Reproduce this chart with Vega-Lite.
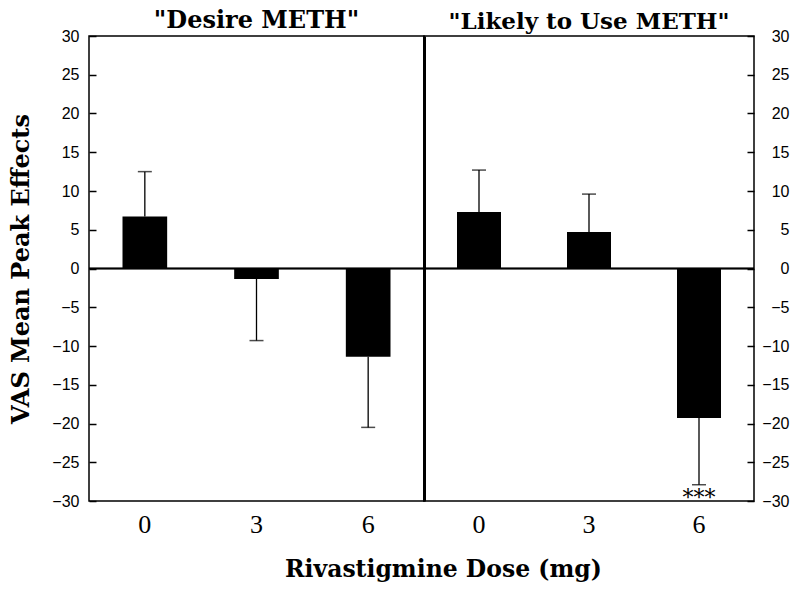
{
  "$schema": "https://vega.github.io/schema/vega-lite/v6.json",
  "padding": {"left": 9, "top": 8, "right": 5, "bottom": 5},
  "background": "white",
  "config": {
    "view": {"stroke": "#000", "strokeWidth": 1.5},
    "axis": {"domain": false, "grid": false, "labelColor": "#000", "tickColor": "#000"},
    "axisX": {"labelFont": "Liberation Serif", "labelFontSize": 26, "ticks": false, "labelPadding": 10, "labelAngle": 0, "title": null},
    "axisY": {"labelFont": "Liberation Sans", "labelFontSize": 16, "offset": -7, "tickSize": 7, "tickWidth": 1.5, "labelPadding": 10, "values": [-30, -25, -20, -15, -10, -5, 0, 5, 10, 15, 20, 25, 30]},
    "title": {"font": "DejaVu Serif", "fontWeight": "bold", "fontSize": 23, "color": "#000"}
  },
  "title": {"text": "Rivastigmine Dose (mg)", "orient": "bottom", "anchor": "middle", "offset": 20, "dx": 44, "font": "DejaVu Serif", "fontSize": 23.5, "fontWeight": "bold"},
  "data": {"values": [
    {"panel": "desire", "dose": "0", "mean": 6.7, "errEnd": 12.5, "sig": ""},
    {"panel": "desire", "dose": "3", "mean": -1.35, "errEnd": -9.3, "sig": ""},
    {"panel": "desire", "dose": "6", "mean": -11.4, "errEnd": -20.5, "sig": ""},
    {"panel": "likely", "dose": "0", "mean": 7.3, "errEnd": 12.7, "sig": ""},
    {"panel": "likely", "dose": "3", "mean": 4.7, "errEnd": 9.6, "sig": ""},
    {"panel": "likely", "dose": "6", "mean": -19.3, "errEnd": -27.9, "sig": "***"}
  ]},
  "spacing": 0,
  "bounds": "flush",
  "hconcat": [
    {
      "width": 335,
      "height": 465,
      "title": {"text": "\"Desire METH\"", "anchor": "middle", "baseline": "alphabetic", "offset": -24, "fontSize": 24},
      "transform": [{"filter": "datum.panel == 'desire'"}],
      "layer": [
        {
          "mark": {"type": "bar", "color": "#000"},
          "encoding": {
            "x": {"field": "dose", "type": "ordinal", "scale": {"paddingInner": 0.6, "paddingOuter": 0.3}},
            "y": {"field": "mean", "type": "quantitative", "scale": {"domain": [-30, 30], "nice": false},
                  "axis": {"title": "VAS Mean Peak Effects", "titleFont": "DejaVu Serif", "titleFontWeight": "bold", "titleFontSize": 24, "titleColor": "#000", "titlePadding": 18}}
          }
        },
        {
          "mark": {"type": "rule", "color": "#000", "strokeWidth": 1.3},
          "encoding": {
            "x": {"field": "dose", "type": "ordinal"},
            "y": {"field": "mean", "type": "quantitative"},
            "y2": {"field": "errEnd"}
          }
        },
        {
          "mark": {"type": "tick", "color": "#000", "size": 14, "thickness": 1.5},
          "encoding": {
            "x": {"field": "dose", "type": "ordinal"},
            "y": {"field": "errEnd", "type": "quantitative"}
          }
        },
        {
          "mark": {"type": "rule", "color": "#000", "strokeWidth": 1.3},
          "encoding": {"y": {"datum": 0}}
        }
      ]
    },
    {
      "width": 330,
      "height": 465,
      "title": {"text": "\"Likely to Use METH\"", "anchor": "middle", "baseline": "alphabetic", "offset": -24, "fontSize": 23},
      "transform": [{"filter": "datum.panel == 'likely'"}],
      "resolve": {"axis": {"y": "independent"}},
      "layer": [
        {
          "mark": {"type": "bar", "color": "#000"},
          "encoding": {
            "x": {"field": "dose", "type": "ordinal", "scale": {"paddingInner": 0.6, "paddingOuter": 0.3}},
            "y": {"field": "mean", "type": "quantitative", "scale": {"domain": [-30, 30], "nice": false},
                  "axis": {"orient": "right", "title": null, "labelAlign": "right", "labelPadding": 35}}
          }
        },
        {
          "mark": {"type": "rule", "color": "#000", "strokeWidth": 1.3},
          "encoding": {
            "x": {"field": "dose", "type": "ordinal"},
            "y": {"field": "mean", "type": "quantitative",
                  "axis": {"orient": "left", "offset": 0, "title": null, "labels": false, "ticks": false, "domain": true, "domainWidth": 3, "domainColor": "#000", "values": []}},
            "y2": {"field": "errEnd"}
          }
        },
        {
          "mark": {"type": "tick", "color": "#000", "size": 14, "thickness": 1.5},
          "encoding": {
            "x": {"field": "dose", "type": "ordinal"},
            "y": {"field": "errEnd", "type": "quantitative", "axis": null}
          }
        },
        {
          "mark": {"type": "rule", "color": "#000", "strokeWidth": 1.3},
          "encoding": {"y": {"datum": 0, "axis": null}}
        },
        {
          "transform": [{"filter": "datum.sig != ''"}],
          "mark": {"type": "text", "font": "DejaVu Serif", "fontSize": 22, "baseline": "top", "dy": 3, "color": "#000"},
          "encoding": {
            "x": {"field": "dose", "type": "ordinal"},
            "y": {"field": "errEnd", "type": "quantitative", "axis": null},
            "text": {"field": "sig"}
          }
        }
      ]
    }
  ]
}
